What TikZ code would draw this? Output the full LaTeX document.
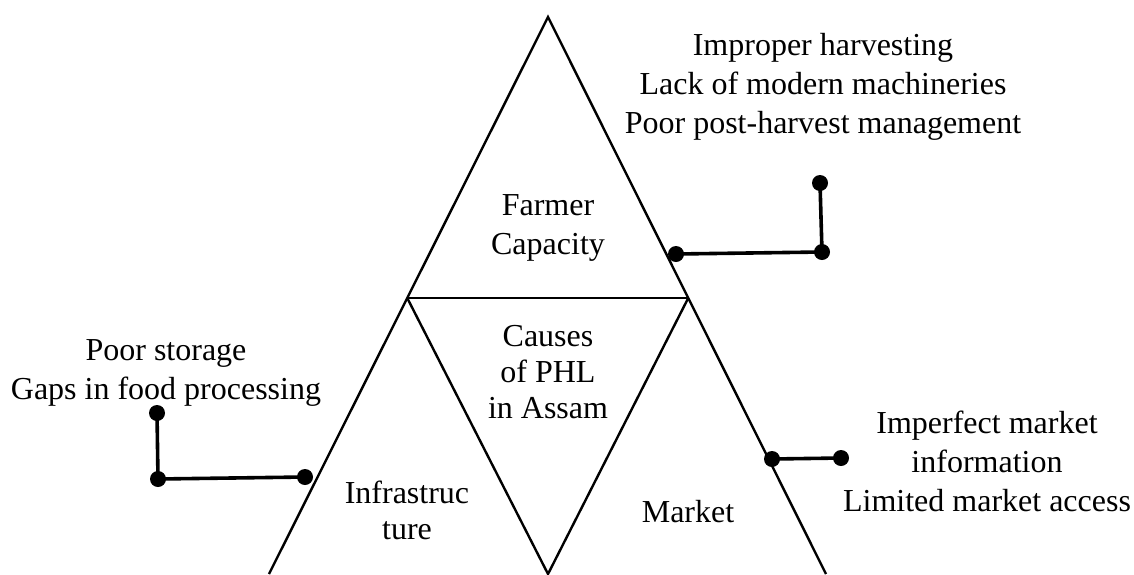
\documentclass[tikz,border=0pt]{standalone}
\usepackage{fontspec}
\setmainfont{Liberation Serif}
\usetikzlibrary{calc}
\begin{document}
\begin{tikzpicture}[x=1pt,y=-1pt,
  side/.style={line width=2.4pt,line join=miter},
  conn/.style={line width=3.6pt},
  dot/.style={circle,fill=black,inner sep=0pt,minimum size=16pt},
  lbl/.style={align=center,inner sep=0pt,font={\fontsize{32}{39}\selectfont}},
  ilbl/.style={align=center,inner sep=0pt,font={\fontsize{32}{36}\selectfont}}]
\useasboundingbox (0,0) rectangle (1134,574);
% triangle vertices
\coordinate (A) at (548,17);
\coordinate (BL) at (269,574);
\coordinate (BR) at (826,574);
\coordinate (BM) at (548,574);
\coordinate (HL) at ($(A)!0.5045!(BL)$);
\coordinate (HR) at ($(A)!0.5045!(BR)$);
\draw[side] (BL) -- (A) -- (BR);
\draw[side] (HL) -- (HR);
\draw[side] (HL) -- (BM) -- (HR);
% labels
\node[lbl] (t1) at (823,87) {Improper harvesting\\Lack of modern machineries\\Poor post-harvest management};
\node[lbl] (t2) at (548,228) {Farmer\\Capacity};
\node[ilbl] (t3) at (548,372) {Causes\\of PHL\\in Assam};
\node[lbl] (t4) at (166,373) {Poor storage\\Gaps in food processing};
\node[ilbl] (t5) at (407,510) {Infrastruc\\ture};
\node[ilbl] (t6) at (688,512) {Market};
\node[lbl] (t7) at (987,461) {Imperfect market\\information\\Limited market access};
% dots
\node[dot] (r1) at (676,254) {};
\node[dot] (r2) at (822,252) {};
\node[dot] (r3) at (820,183) {};
\node[dot] (l1) at (305,477) {};
\node[dot] (l2) at (158,479) {};
\node[dot] (l3) at (157,413) {};
\node[dot] (m1) at (772,459) {};
\node[dot] (m2) at (841,458) {};
\draw[conn] (r1.center) -- (r2.center) -- (r3.center);
\draw[conn] (l1.center) -- (l2.center) -- (l3.center);
\draw[conn] (m1.center) -- (m2.center);
\end{tikzpicture}
\end{document}
